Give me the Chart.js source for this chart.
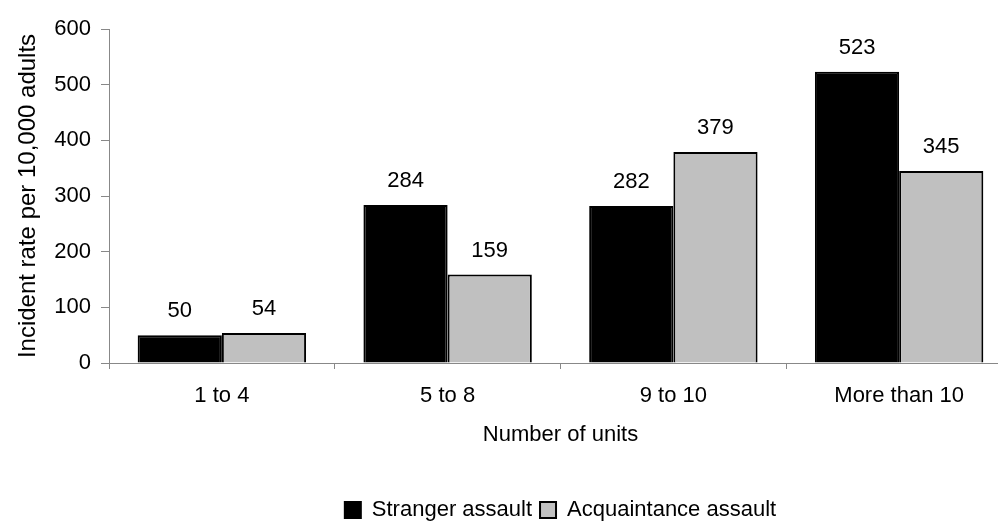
<!DOCTYPE html>
<html>
<head>
<meta charset="utf-8">
<script src="https://cdn.jsdelivr.net/npm/chart.js@4/dist/chart.umd.min.js"></script>
<style>
  html, body { margin: 0; padding: 0; background: #fff; }
  #frame { position: relative; width: 998px; height: 525px; overflow: hidden; }
  #holder { position: absolute; left: 0; top: 0; width: 1012px; height: 531px; }
</style>
</head>
<body>
<div id="frame"><div id="holder"><canvas id="chart"></canvas></div></div>
<script>
// Incident rates per 10,000 adults by number of units
const categories = ['1 to 4', '5 to 8', '9 to 10', 'More than 10'];
const strangerAssault = [50, 284, 282, 523];
const acquaintanceAssault = [54, 159, 379, 345];
const yTicks = [0, 100, 200, 300, 400, 500, 600];

const FONT = '"Liberation Sans", Arial, Helvetica, sans-serif';
Chart.defaults.font.family = FONT;
Chart.defaults.color = '#000';

// Writes each bar's value just above it
const valueLabels = {
  id: 'valueLabels',
  afterDatasetsDraw(chart) {
    const ctx = chart.ctx;
    ctx.save();
    ctx.font = '22px ' + FONT;
    ctx.fillStyle = '#000';
    ctx.textAlign = 'center';
    ctx.textBaseline = 'middle';
    chart.data.datasets.forEach((ds, i) => {
      chart.getDatasetMeta(i).data.forEach((bar, j) => {
        ctx.fillText(String(ds.data[j]), bar.x, bar.y - 24);
      });
    });
    ctx.restore();
  }
};

new Chart(document.getElementById('chart'), {
  type: 'bar',
  data: {
    labels: categories,
    datasets: [
      {
        label: 'Stranger assault',
        data: strangerAssault,
        backgroundColor: '#000000',
        borderColor: '#000000',
        borderWidth: 2,
        categoryPercentage: 0.746,
        barPercentage: 1.0
      },
      {
        label: 'Acquaintance assault',
        data: acquaintanceAssault,
        backgroundColor: '#c0c0c0',
        borderColor: '#000000',
        borderWidth: 2,
        categoryPercentage: 0.746,
        barPercentage: 1.0
      }
    ]
  },
  options: {
    responsive: true,
    maintainAspectRatio: false,
    animation: false,
    devicePixelRatio: 1,
    layout: { padding: { left: 0, right: 0, top: 29, bottom: 0 } },
    plugins: {
      tooltip: { enabled: false },
      legend: {
        display: true,
        position: 'bottom',
        align: 'center',
        fullSize: false,
        labels: {
          boxWidth: 16,
          boxHeight: 16,
          padding: 8,
          color: '#000',
          font: { size: 22, family: FONT }
        }
      }
    },
    scales: {
      x: {
        grid: {
          display: true,
          offset: true,
          drawOnChartArea: false,
          drawTicks: true,
          tickLength: 6,
          tickColor: '#888'
        },
        border: { display: true, color: '#888', width: 1 },
        ticks: {
          padding: 14,
          color: '#000',
          font: { size: 22, family: FONT },
          maxRotation: 0
        },
        title: {
          display: true,
          text: 'Number of units',
          color: '#000',
          font: { size: 22, family: FONT },
          padding: { top: 0, bottom: 43 }
        },
        afterFit(scale) { scale.height = 128; }
      },
      y: {
        min: 0,
        max: 600,
        afterBuildTicks(scale) { scale.ticks = yTicks.map(v => ({ value: v })); },
        grid: {
          display: true,
          drawOnChartArea: false,
          drawTicks: true,
          tickLength: 8,
          tickColor: '#888'
        },
        border: { display: true, color: '#888', width: 1 },
        ticks: {
          padding: 10,
          color: '#000',
          font: { size: 22, family: FONT }
        },
        title: {
          display: true,
          text: 'Incident rate per 10,000 adults',
          color: '#000',
          font: { size: 24, family: FONT },
          padding: { top: 14, bottom: 0 }
        },
        afterFit(scale) { scale.width = 109; }
      }
    }
  },
  plugins: [valueLabels]
});
</script>
</body>
</html>
